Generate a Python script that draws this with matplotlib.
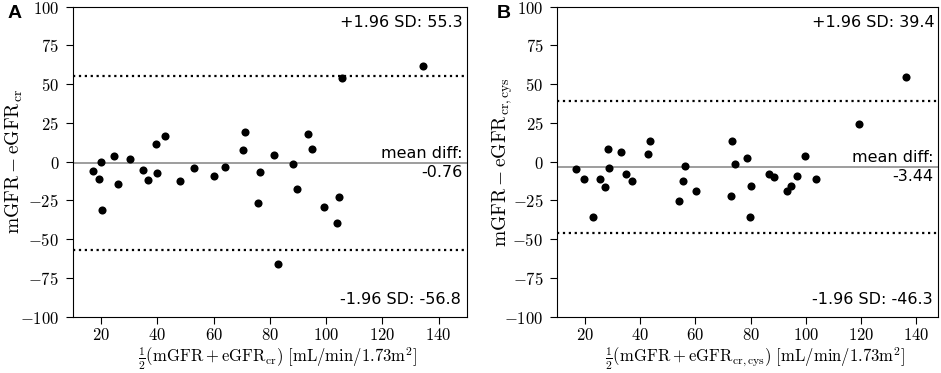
import matplotlib
matplotlib.use("Agg")
import matplotlib.pyplot as plt
from matplotlib.ticker import FuncFormatter

plt.rcParams['mathtext.fontset'] = 'cm'
plt.rcParams['font.family'] = 'DejaVu Sans'

# panel A: mGFR vs eGFR_cr
a_mean = [17.1, 19.1, 20.0, 20.4, 24.6, 26.1, 30.2, 34.9, 36.8, 39.6, 39.9, 42.6, 48.2, 53.1, 60.0, 64.0,
          70.6, 71.1, 75.7, 76.5, 81.4, 82.9, 88.3, 89.6, 93.7, 95.0, 99.3, 104.6, 104.0, 105.5, 134.6]
a_diff = [-6.0, -11.0, -0.4, -31.2, 3.7, -14.6, 1.5, -5.2, -11.6, 11.6, -7.5, 16.4, -12.5, -4.3, -9.0, -3.4,
          7.5, 19.4, -26.5, -6.8, 4.3, -66.2, -1.3, -17.6, 18.1, 8.2, -29.4, -23.0, -39.4, 54.2, 61.9]
a_stats = [-0.76, 55.3, -56.8]  # mean diff, +1.96 SD, -1.96 SD

# panel B: mGFR vs eGFR_cr,cys
b_mean = [16.7, 19.7, 23.0, 25.4, 27.1, 28.4, 28.6, 33.2, 34.8, 37.2, 42.7, 43.7, 54.2, 55.6, 56.3, 60.1,
          72.8, 73.1, 74.3, 78.7, 80.1, 79.6, 86.5, 88.6, 93.2, 94.5, 96.6, 99.8, 103.6, 119.1, 136.4]
b_diff = [-4.5, -11.4, -35.9, -11.0, -16.3, 8.0, -4.3, 6.0, -7.7, -12.7, 5.0, 13.5, -25.2, -12.7, -2.6, -19.1,
          -22.1, 13.5, -1.5, 2.6, -15.9, -35.9, -7.7, -9.9, -19.1, -15.7, -9.2, 3.5, -11.2, 24.1, 54.8]
b_stats = [-3.44, 39.4, -46.3]

fig = plt.figure(figsize=(9.41, 3.73), dpi=100)
ax_a = fig.add_axes([0.0776, 0.151, 0.4184, 0.831])
ax_b = fig.add_axes([0.5922, 0.151, 0.4046, 0.831])

panels = [
    (ax_a, a_mean, a_diff, a_stats, (10, 150),
     r'$\mathrm{mGFR} - \mathrm{eGFR}_{\mathrm{cr}}$',
     r'$\frac{1}{2}(\mathrm{mGFR} + \mathrm{eGFR}_{\mathrm{cr}})\ [\mathrm{mL/min/}\mathsf{1.73}\mathrm{m}^2]$',
     -0.122),
    (ax_b, b_mean, b_diff, b_stats, (10, 147.8),
     r'$\mathrm{mGFR} - \mathrm{eGFR}_{\mathrm{cr,cys}}$',
     r'$\frac{1}{2}(\mathrm{mGFR} + \mathrm{eGFR}_{\mathrm{cr,cys}})\ [\mathrm{mL/min/}\mathsf{1.73}\mathrm{m}^2]$',
     -0.111),
]

fmt = FuncFormatter(lambda v, p: f'${v:g}$')

for ax, xs, ys, stats, xlim, ylab, xlab, ylab_x in panels:
    mean_d, upper, lower = stats
    ax.axhline(mean_d, color='#8c8c8c', lw=1.2, zorder=1)
    ax.axhline(upper, color='black', ls=':', lw=1.6, zorder=1)
    ax.axhline(lower, color='black', ls=':', lw=1.6, zorder=1)
    ax.scatter(xs, ys, s=34, color='black', zorder=3, linewidths=0)

    ax.set_xlim(*xlim)
    ax.set_ylim(-100, 100)
    ax.set_xticks([20, 40, 60, 80, 100, 120, 140])
    ax.set_yticks([-100, -75, -50, -25, 0, 25, 50, 75, 100])
    ax.xaxis.set_major_formatter(fmt)
    ax.yaxis.set_major_formatter(fmt)
    ax.tick_params(labelsize=12, length=5, width=0.8, pad=5)
    ax.tick_params(axis='x', pad=2)

    ax.set_ylabel(ylab, fontsize=14)
    ax.yaxis.set_label_coords(ylab_x, 0.5)
    ax.set_xlabel(xlab, fontsize=12, va='bottom')
    ax.xaxis.set_label_coords(0.52, -0.179)

    ax.text(0.99, 0.95, f'+1.96 SD: {upper}', transform=ax.transAxes, ha='right', va='center', fontsize=11.5)
    ax.text(0.985, 0.054, f'-1.96 SD: {lower}', transform=ax.transAxes, ha='right', va='center', fontsize=11.5)
    xr = xlim[1] - 0.012 * (xlim[1] - xlim[0])
    ax.text(xr, mean_d + 1.5, 'mean diff:', ha='right', va='bottom', fontsize=11.5)
    ax.text(xr, mean_d - 1.5, f'{mean_d}', ha='right', va='top', fontsize=11.5)

fig.text(0.016, 0.965, 'A', fontsize=14, fontweight='bold', family='Liberation Sans', ha='center', va='center')
fig.text(0.535, 0.965, 'B', fontsize=14, fontweight='bold', family='Liberation Sans', ha='center', va='center')

fig.savefig('out.png', dpi=100)
